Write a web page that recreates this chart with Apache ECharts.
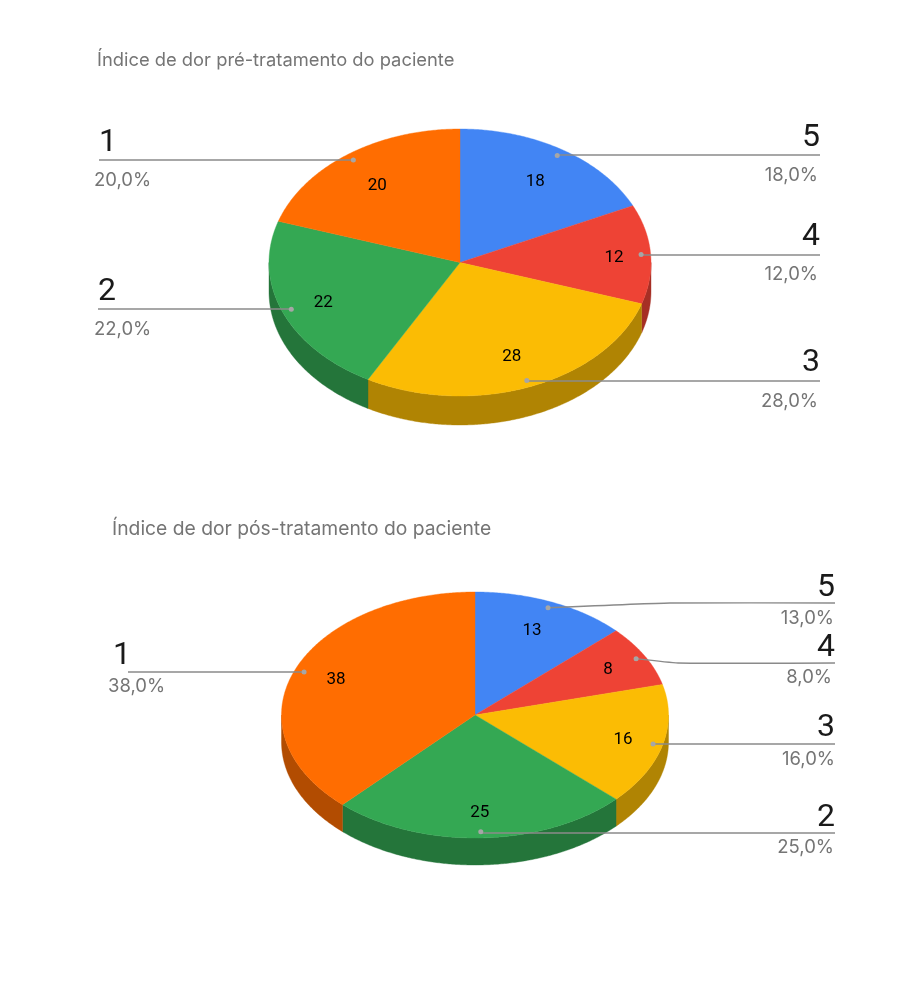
<!DOCTYPE html>
<html>
<head>
<meta charset="utf-8">
<style>html,body{margin:0;padding:0;background:#fff}#c{width:902px;height:988px}</style>
<script src="https://cdn.jsdelivr.net/npm/echarts@6/dist/echarts.min.js"></script>
</head>
<body>
<div id="c"></div>
<script>
// ---- data ----
const categories = ['5', '4', '3', '2', '1'];
const preValues = [18, 12, 28, 22, 20];
const postValues = [13, 8, 16, 25, 38];
const prePercent = ['18,0%', '12,0%', '28,0%', '22,0%', '20,0%'];
const postPercent = ['13,0%', '8,0%', '16,0%', '25,0%', '38,0%'];
const preTitle = 'Índice de dor pré-tratamento do paciente';
const postTitle = 'Índice de dor pós-tratamento do paciente';

// ---- styles and layout ----
const topColors = ['#4285F4', '#EE4335', '#FBBC04', '#34A853', '#FF6D01'];
const sideColors = ['#2E5DAB', '#A62F25', '#B08403', '#24753A', '#B24C01'];
const FONT = 'Roboto, sans-serif';
const WIDE = 'Inter, sans-serif';
const preGeom = {cx: 460, cy: 262.5, rx: 191, ry: 133.5, depth: 29};
const postGeom = {cx: 475, cy: 715, rx: 193.5, ry: 123, depth: 27};
// vx, vy: offset of the value text from the leader dot
const preLabels = [
  {lineY:155, end:820, nameX:820, nameY:138, pctX:818, pctY:175, align:'right', vx:-22, vy:26},
  {lineY:255, end:820, nameX:820, nameY:237, pctX:818, pctY:274, align:'right', vx:-27, vy:3},
  {lineY:381, end:820, nameX:820, nameY:363, pctX:818, pctY:401, align:'right', vx:-15, vy:-24},
  {lineY:309, end:98,  nameX:98,  nameY:292, pctX:94,  pctY:329, align:'left', vx:32, vy:-6},
  {lineY:160, end:99,  nameX:99,  nameY:143, pctX:94,  pctY:180, align:'left', vx:24, vy:26}
];
const postLabels = [
  {lineY:603, end:835, nameX:835, nameY:588, pctX:834, pctY:618, align:'right', bend:670, vx:-16, vy:23},
  {lineY:663, end:835, nameX:835, nameY:648, pctX:832, pctY:677, align:'right', bend:678, vx:-28, vy:11},
  {lineY:744, end:835, nameX:835, nameY:728, pctX:835, pctY:759, align:'right', vx:-30, vy:-4},
  {lineY:833, end:835, nameX:835, nameY:818, pctX:834, pctY:847, align:'right', vx:-1, vy:-19},
  {lineY:672, end:128, nameX:113, nameY:656, pctX:108, pctY:686, align:'left', vx:32, vy:8}
];

function pieSeries(values, percents, geom, labels) {
  const total = values.reduce((a, b) => a + b, 0);
  const pt = (deg, f, dy) => {
    const t = deg * Math.PI / 180;
    return [geom.cx + geom.rx * f * Math.sin(t), geom.cy - geom.ry * f * Math.cos(t) + (dy || 0)];
  };
  const arc = (a, b, dy) => {
    const out = [];
    const n = Math.max(2, Math.ceil((b - a) * 2));
    for (let i = 0; i <= n; i++) out.push(pt(a + (b - a) * i / n, 1, dy));
    return out;
  };
  return {
    type: 'custom',
    coordinateSystem: 'none',
    animation: false,
    silent: true,
    data: values.map((v, i) => ({name: categories[i], value: v})),
    renderItem(params, api) {
      const i = params.dataIndex;
      const v = api.value(0);
      let before = 0;
      for (let k = 0; k < i; k++) before += values[k];
      const a0 = before / total * 360, a1 = (before + v) / total * 360, mid = (a0 + a1) / 2;
      const children = [];
      // side wall: only the part of the slice on the lower half of the ellipse
      const s0 = Math.max(a0, 90), s1 = Math.min(a1, 270);
      if (s1 > s0) {
        children.push({type: 'polygon', z2: 1,
          shape: {points: arc(s0, s1, 0).concat(arc(s0, s1, geom.depth).reverse())},
          style: {fill: sideColors[i], stroke: sideColors[i], lineWidth: 0.4}});
      }
      // top face
      children.push({type: 'polygon', z2: 2,
        shape: {points: [[geom.cx, geom.cy]].concat(arc(a0, a1, 0))},
        style: {fill: topColors[i], stroke: topColors[i], lineWidth: 0.4}});
      // leader line
      const L = labels[i], dot = pt(mid, 0.95);
      // value inside the slice
      children.push({type: 'text', z2: 6, style: {text: String(v), x: dot[0] + L.vx, y: dot[1] + L.vy,
        align: 'center', verticalAlign: 'middle', fill: '#000', font: '17px ' + FONT}});
      const path = [dot];
      if (L.bend) path.push([L.bend, L.lineY]);
      else path.push([dot[0], L.lineY]);
      path.push([L.end, L.lineY]);
      children.push({type: 'polyline', z2: 5, shape: {points: path, smooth: L.bend ? 0.15 : 0},
        style: {stroke: '#8a8a8a', lineWidth: 1.3, fill: null}});
      children.push({type: 'circle', z2: 5, shape: {cx: dot[0], cy: dot[1], r: 2.5},
        style: {fill: '#a6a6a6'}});
      // category name and percentage
      children.push({type: 'text', z2: 6, style: {text: categories[i], x: L.nameX, y: L.nameY,
        align: L.align, verticalAlign: 'middle', fill: '#1a1a1a', font: '32px ' + FONT}});
      children.push({type: 'text', z2: 6, style: {text: percents[i], x: L.pctX, y: L.pctY,
        align: L.align, verticalAlign: 'middle', fill: '#757575', font: '18.5px ' + WIDE}});
      return {type: 'group', children};
    }
  };
}

const chart = echarts.init(document.getElementById('c'), null, {renderer: 'canvas'});
chart.setOption({
  backgroundColor: '#fff',
  animation: false,
  title: [
    {text: preTitle, left: 92, top: 46, textStyle: {color: '#757575', fontSize: 18.35, fontWeight: 'normal', fontFamily: WIDE}},
    {text: postTitle, left: 107, top: 514.5, textStyle: {color: '#757575', fontSize: 19.3, fontWeight: 'normal', fontFamily: WIDE}}
  ],
  series: [
    pieSeries(preValues, prePercent, preGeom, preLabels),
    pieSeries(postValues, postPercent, postGeom, postLabels)
  ]
});
</script>
</body>
</html>
